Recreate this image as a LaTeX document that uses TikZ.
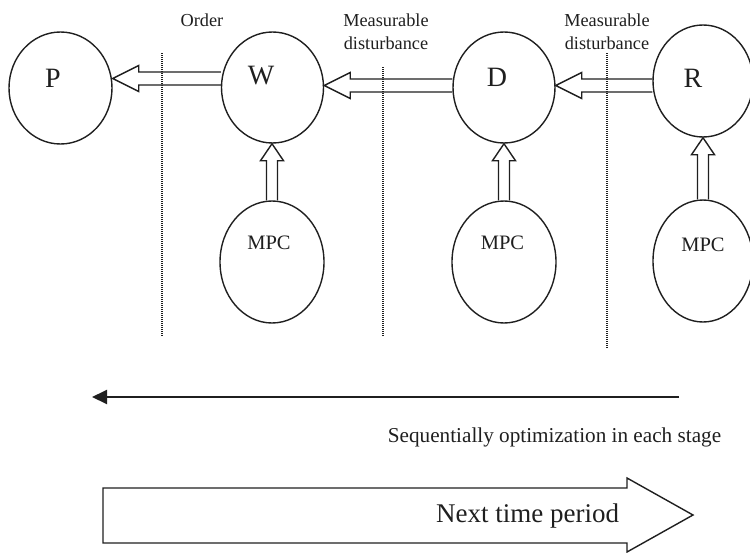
\documentclass[tikz,border=0pt]{standalone}
\usepackage{fontspec}
\setmainfont{Liberation Serif}
\usetikzlibrary{shapes.geometric,calc,arrows.meta}
\definecolor{ink}{gray}{0.12}
\tikzset{
  stage/.style={draw=ink, line width=1.4pt, ellipse, inner sep=0pt,
    minimum width=102pt, minimum height=111pt},
  ctrl/.style={stage, minimum width=104pt, minimum height=122pt},
  letter/.style={text=ink, inner sep=0pt, font=\fontsize{28}{28}\selectfont},
  ctrltext/.style={text=ink, inner sep=0pt, font=\fontsize{20.5}{20}\selectfont},
  note/.style={text=ink, inner sep=0pt, align=center, font=\fontsize{18.3}{23}\selectfont},
  blk/.style={draw=ink, line width=1.4pt, line join=miter},
  divider/.style={draw=ink, line width=1.3pt, dash pattern=on 1pt off 1pt},
}
% hollow block arrow pointing left: tail point, then the node border it points to
\newcommand\leftblock[2]{\draw[blk] let \p1=#1, \p2=#2 in
  (\x1,\y1+6.5pt) -- (\x2+26pt,\y1+6.5pt) -- (\x2+26pt,\y1+13pt) -- (\x2,\y1)
  -- (\x2+26pt,\y1-13pt) -- (\x2+26pt,\y1-6.5pt) -- (\x1,\y1-6.5pt);}
% hollow block arrow pointing up
\newcommand\upblock[2]{\draw[blk] let \p1=#1, \p2=#2 in
  (\x1-5.5pt,\y1) -- (\x1-5.5pt,\y2-17pt) -- (\x1-11.5pt,\y2-17pt) -- (\x1,\y2)
  -- (\x1+11.5pt,\y2-17pt) -- (\x1+5.5pt,\y2-17pt) -- (\x1+5.5pt,\y1);}
\begin{document}
\begin{tikzpicture}[x=1pt,y=-1pt]
\useasboundingbox (0,0) rectangle (750,552);
\clip (0,0) rectangle (750,552);

% supply-chain stages
\node[stage, minimum width=103pt, minimum height=112pt] (P) at (60.5,88) {};
\node[stage] (W) at (272.5,87.5) {};
\node[stage] (D) at (504,87.5) {};
\node[stage, minimum width=100pt, minimum height=112pt] (R) at (703,81) {};
\node[letter] (Pl) at (53,78.5) {P};
\node[letter] (Wl) at (261,75.5) {W};
\node[letter] (Dl) at (497,77.5) {D};
\node[letter] (Rl) at (693,78) {R};

% controllers
\node[ctrl] (M1) at (272,262) {};
\node[ctrl] (M2) at (504,262) {};
\node[ctrl, minimum width=100pt] (M3) at (703,261) {};
\node[ctrltext] (M1l) at (269,242.5) {MPC};
\node[ctrltext] (M2l) at (502.5,243) {MPC};
\node[ctrltext] (M3l) at (703,245) {MPC};

% stage boundaries
\draw[divider] (162,53) -- (162,337);
\draw[divider] (383,67) -- (383,337);
\draw[divider] (607,53) -- (607,348);

% flow labels
\node[note] (order) at (202,20) {Order};
\node[note] (md1) at (386,31.5) {Measurable\\disturbance};
\node[note] (md2) at (607,32) {Measurable\\disturbance};

% information flow between stages
\leftblock{($(W.west)+(0,-9)$)}{(P.east)}
\leftblock{($(D.west)+(0,-2)$)}{(W.east)}
\leftblock{($(R.west)+(0,4.5)$)}{(D.east)}
\upblock{(M1.north)}{(W.south)}
\upblock{(M2.north)}{(D.south)}
\upblock{(M3.north)}{(R.south)}

% optimisation order
\coordinate (seqStart) at (679,397);
\coordinate (seqEnd) at (92,397);
\draw[ink, line width=1.9pt, -{Triangle[length=15pt,width=14pt]}] (seqStart) -- (seqEnd);
\node[text=ink, inner sep=0pt, anchor=base, font=\fontsize{21.2}{24}\selectfont]
  (seq) at (554.5,442) {Sequentially optimization in each stage};

% time direction
\draw[blk] (103,488) -- (627,488) -- (627,478) -- (693,515) -- (627,552)
  -- (627,543) -- (103,543) -- cycle;
\node[text=ink, inner sep=0pt, anchor=base, font=\fontsize{27}{30}\selectfont]
  (next) at (527.5,522) {Next time period};
\end{tikzpicture}
\end{document}
